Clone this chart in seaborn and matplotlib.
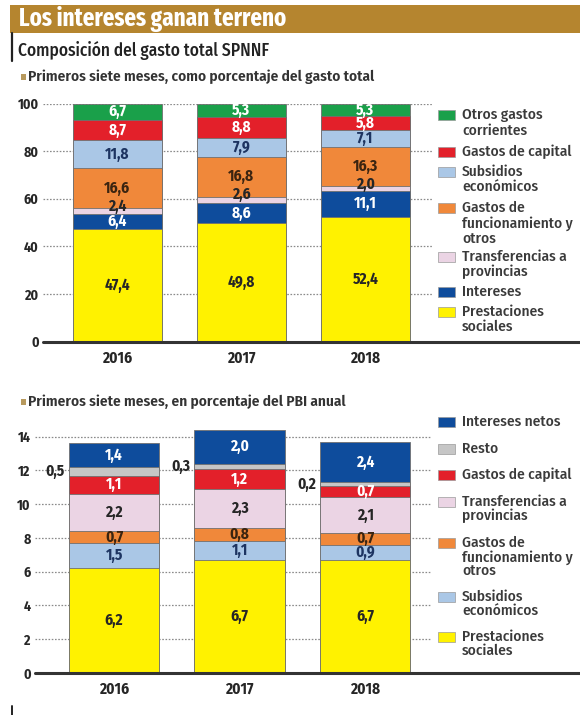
import matplotlib
matplotlib.use('Agg')
import matplotlib.pyplot as plt
import seaborn as sns
import numpy as np
import pandas as pd
from matplotlib.patches import Rectangle
from matplotlib.lines import Line2D

# ---------------- data ----------------
years = ['2016', '2017', '2018']

# Top chart: % of total spending (bottom -> top)
prestaciones_pct = [47.4, 49.8, 52.4]
intereses_pct = [6.4, 8.6, 11.1]
transferencias_pct = [2.4, 2.6, 2.0]
funcionamiento_pct = [16.6, 16.8, 16.3]
subsidios_pct = [11.8, 7.9, 7.1]
capital_pct = [8.7, 8.8, 5.8]
otros_pct = [6.7, 5.3, 5.3]

# Bottom chart: % of annual GDP (bottom -> top)
prestaciones_pbi = [6.2, 6.7, 6.7]
subsidios_pbi = [1.5, 1.1, 0.9]
funcionamiento_pbi = [0.7, 0.8, 0.7]
transferencias_pbi = [2.2, 2.3, 2.1]
capital_pbi = [1.1, 1.2, 0.7]
resto_pbi = [0.5, 0.3, 0.2]
intereses_pbi = [1.4, 2.0, 2.4]

top_ticks = [0, 20, 40, 60, 80, 100]
bottom_ticks = [0, 2, 4, 6, 8, 10, 12, 14]

# ---------------- style ----------------
GREEN = '#1AA04A'
RED = '#E3202A'
LBLUE = '#AAC7E6'
ORANGE = '#F0883A'
PINK = '#EBD4E4'
NAVY = '#0E4C9C'
YELLOW = '#FFF200'
GREY = '#C6C6C6'
BROWN = '#B5852F'
DARK = '#262626'
NAVYTXT = '#1d3461'
BROWNTXT = '#3b2410'

sns.set_style('white')
FONT = ['Fira Sans Condensed', 'PT Sans Narrow', 'DejaVu Sans']
TITLE_FONT = ['Fira Sans Extra Condensed', 'Fira Sans Condensed', 'DejaVu Sans']
plt.rcParams['font.family'] = FONT

W, H = 580, 715
fig = plt.figure(figsize=(W / 100, H / 100), dpi=100)
fig.patch.set_facecolor('white')


def P(x, y):
    return (x / W, 1 - y / H)


def fmt(v):
    return f"{v:.1f}".replace('.', ',')


# ---------------- header ----------------
fig.add_artist(Rectangle(P(10, 33), (W - 10) / W, 28 / H, transform=fig.transFigure,
                         facecolor=BROWN, edgecolor='none'))
fig.text(*P(19, 19), 'Los intereses ganan terreno', color='white', fontsize=18,
         weight='bold', va='center', ha='left', family=TITLE_FONT)
fig.add_artist(Line2D([12 / W, 12 / W], [1 - 33 / H, 1 - 61 / H], color='#222222', lw=1.6,
                      transform=fig.transFigure))
fig.text(*P(18, 50), 'Composición del gasto total SPNNF', color='#222222', fontsize=12.5,
         weight=500, va='center', ha='left')


def bullet_title(y, text):
    fig.add_artist(Rectangle(P(21, y + 3), 5 / W, 6 / H, transform=fig.transFigure,
                             facecolor='#B89A5E', edgecolor='none'))
    fig.text(*P(28.5, y), text, color='#333333', fontsize=11, weight=600,
             va='center', ha='left')


bullet_title(77, 'Primeros siete meses, como porcentaje del gasto total')
bullet_title(402, 'Primeros siete meses, en porcentaje del PBI anual')

BAR_W = 0.72


def draw_stack(ax, layers, colors):
    cums = np.cumsum(np.array(layers, dtype=float), axis=0)
    for i in reversed(range(len(layers))):
        df = pd.DataFrame({'year': years, 'value': cums[i]})
        sns.barplot(data=df, x='year', y='value', order=years, color=colors[i],
                    saturation=1, width=BAR_W, edgecolor='#707070', linewidth=0.6,
                    errorbar=None, ax=ax, zorder=3)
    return cums


def style_axes(ax, ticks, mask_left_frac, keep_top):
    ax.set_xlabel('')
    ax.set_ylabel('')
    for s in ax.spines.values():
        s.set_visible(False)
    ax.set_yticks(ticks)
    ax.set_yticklabels([str(t) for t in ticks])
    ax.tick_params(axis='y', length=0, pad=3, labelsize=10, labelcolor=DARK)
    ax.tick_params(axis='x', length=0, pad=6, labelsize=11, labelcolor=DARK)
    for lab in ax.get_yticklabels() + ax.get_xticklabels():
        lab.set_fontweight('bold')
    ax.set_axisbelow(True)
    ax.yaxis.grid(True, linestyle=(0, (1.3, 1.3)), color='#8a8a8a', lw=0.9)
    ax.xaxis.grid(False)
    top = 0.985 if keep_top else 1.0
    ax.add_patch(Rectangle((mask_left_frac, 0.004), 1 - mask_left_frac, top - 0.004,
                           transform=ax.transAxes, facecolor='white', edgecolor='none',
                           zorder=1.5))
    ax.axhline(0, color='#333333', lw=2.2, zorder=5, clip_on=False)


def label_segments(ax, layers, cums, txtcolors, special=None):
    for i, vals in enumerate(layers):
        vals = np.array(vals, dtype=float)
        bottoms = cums[i] - vals
        for j, v in enumerate(vals):
            x, y, ha = j, bottoms[j] + v / 2, 'center'
            if special and i in special:
                kind = special[i]
                if kind == 'above':
                    y = cums[i][j] + 0.8
                elif kind == 'left':
                    x = j - BAR_W / 2 - 0.03
                    ha = 'right'
            ax.text(x, y, fmt(v), ha=ha, va='center', fontsize=11, weight='bold',
                    color=txtcolors[i], zorder=6, clip_on=False)


def draw_legend(entries, pitch):
    for lines, color, y0 in entries:
        fig.add_artist(Rectangle(P(438, y0 + 5), 17 / W, 10 / H, transform=fig.transFigure,
                                 facecolor=color, edgecolor='#9a9a9a', lw=0.5, zorder=10))
        for k, ln in enumerate(lines.split('\n')):
            fig.text(*P(462, y0 + k * pitch), ln, fontsize=11, weight=500, color='#3a3a3a',
                     va='center', ha='left', zorder=10)


# ---------------- top chart ----------------
ax1_left, ax1_w = 43, W - 43
ax1 = fig.add_axes([ax1_left / W, 1 - 341.7 / H, ax1_w / W, 238 / H])
top_layers = [prestaciones_pct, intereses_pct, transferencias_pct, funcionamiento_pct,
              subsidios_pct, capital_pct, otros_pct]
top_colors = [YELLOW, NAVY, PINK, ORANGE, LBLUE, RED, GREEN]
top_txt = [DARK, 'white', DARK, BROWNTXT, NAVYTXT, 'white', 'white']
cums1 = draw_stack(ax1, top_layers, top_colors)
ax1.set_ylim(0, 100)
ax1.set_xlim(-0.60, -0.60 + ax1_w / 124)
style_axes(ax1, top_ticks, (432 - ax1_left) / ax1_w, keep_top=False)
label_segments(ax1, top_layers, cums1, top_txt, special={2: 'above'})

draw_legend([
    ('Otros gastos\ncorrientes', GREEN, 115),
    ('Gastos de capital', RED, 151.7),
    ('Subsidios\neconómicos', LBLUE, 171.7),
    ('Gastos de\nfuncionamiento y\notros', ORANGE, 208.3),
    ('Transferencias a\nprovincias', PINK, 256.7),
    ('Intereses', NAVY, 291.7),
    ('Prestaciones\nsociales', YELLOW, 311.7),
], pitch=15.5)

# ---------------- bottom chart ----------------
ax2_left, ax2_w = 35, W - 35
ax2 = fig.add_axes([ax2_left / W, 1 - 673 / H, ax2_w / W, 14.5 * 16.88 / H])
bot_layers = [prestaciones_pbi, subsidios_pbi, funcionamiento_pbi, transferencias_pbi,
              capital_pbi, resto_pbi, intereses_pbi]
bot_colors = [YELLOW, LBLUE, ORANGE, PINK, RED, GREY, NAVY]
bot_txt = [DARK, NAVYTXT, BROWNTXT, DARK, 'white', DARK, 'white']
cums2 = draw_stack(ax2, bot_layers, bot_colors)
ax2.set_ylim(0, 14.5)
ax2.set_xlim(-0.63, -0.63 + ax2_w / 125.5)
style_axes(ax2, bottom_ticks, (432 - ax2_left) / ax2_w, keep_top=True)
label_segments(ax2, bot_layers, cums2, bot_txt, special={5: 'left'})

draw_legend([
    ('Intereses netos', NAVY, 421.7),
    ('Resto', GREY, 449.3),
    ('Gastos de capital', RED, 475),
    ('Transferencias a\nprovincias', PINK, 501.7),
    ('Gastos de\nfuncionamiento y\notros', ORANGE, 543.3),
    ('Subsidios\neconómicos', LBLUE, 596.7),
    ('Prestaciones\nsociales', YELLOW, 636.7),
], pitch=14)

# footer mark
fig.add_artist(Line2D([12 / W, 12 / W], [0, 1 - 706 / H], color='#222222', lw=1.4,
                      transform=fig.transFigure))

fig.savefig('out.png', dpi=100, facecolor='white')
